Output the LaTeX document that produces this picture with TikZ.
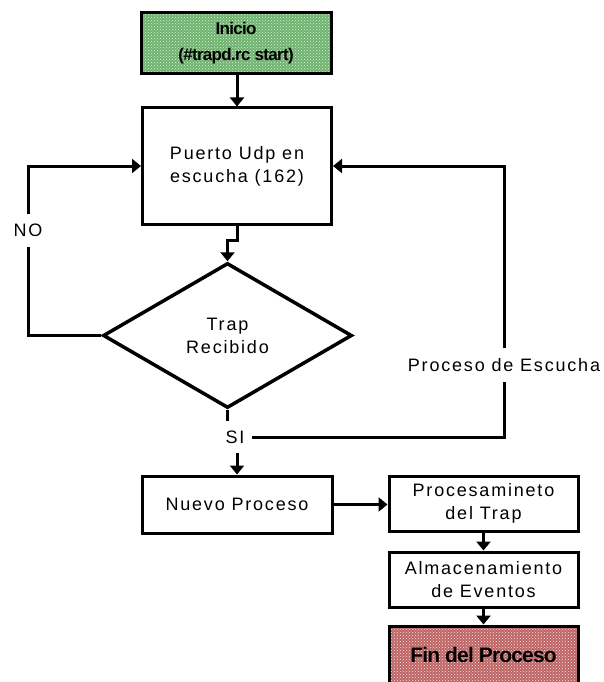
\documentclass[tikz,border=0pt]{standalone}
\usepackage{fontspec}
\setmainfont[LetterSpace=10]{Liberation Sans}
\newfontfamily\boldtight[LetterSpace=-4]{Liberation Sans}
\usetikzlibrary{shapes.geometric,arrows.meta,patterns}
\definecolor{gfill}{RGB}{110,178,110}
\definecolor{gdot}{RGB}{225,245,225}
\definecolor{rfill}{RGB}{190,100,100}
\definecolor{rdot}{RGB}{250,225,225}
\tikzset{
  txt/.style={font=\fontsize{18}{23}\selectfont},
  box/.style={txt, draw, line width=3pt, rectangle, inner sep=0pt, align=center},
  greenbox/.style={box, font=\boldtight\bfseries\fontsize{17}{26}\selectfont,
     preaction={fill=gfill}, preaction={pattern=crosshatch dots, pattern color=gdot}},
  redbox/.style={box, font=\boldtight\bfseries\fontsize{21}{26}\selectfont,
     preaction={fill=rfill}, preaction={pattern=crosshatch dots, pattern color=rdot}},
  dec/.style={txt, draw, diamond, line width=3.5pt, minimum width=249pt, minimum height=145pt,
     inner sep=0pt, align=center},
  lbl/.style={txt, inner sep=0pt},
  conn/.style={line width=3pt},
  arr/.style={conn, -{Triangle[length=9pt,width=14pt]}}
}
\begin{document}
\begin{tikzpicture}[x=1pt,y=-1pt]
\useasboundingbox (0,0) rectangle (603,682);
\fill[white] (0,0) rectangle (603,682);

\node[greenbox, minimum width=190pt, minimum height=61pt] (inicio) at (236,43.5) {Inicio\\(\#trapd.rc start)};
\node[box, minimum width=189pt, minimum height=116pt] (puerto) at (237,166) {Puerto Udp en\\escucha (162)};
\node[dec] (trap) at (227.5,335.5) {Trap\\Recibido};
\node[lbl, minimum height=33pt] (no) at (28,230.5) {NO};
\node[lbl, minimum height=32pt, inner xsep=7pt] (si) at (235,437) {SI};
\node[lbl, minimum height=34pt] (esc) at (504,365) {Proceso de Escucha};
\node[box, minimum width=190pt, minimum height=57pt] (nuevo) at (237,504.5) {Nuevo Proceso};
\node[box, minimum width=189pt, minimum height=55pt] (proc) at (483.5,503.5) {Procesamineto\\del Trap};
\node[box, minimum width=189pt, minimum height=55pt] (alm) at (483.5,579.5) {Almacenamiento\\de Eventos};
\node[redbox, minimum width=189pt, minimum height=58pt] (fin) at (483.5,655) {Fin del Proceso};

\coordinate (j1) at (237,240);
\coordinate (j2) at (227.5,240);

\draw[arr] (inicio.south -| puerto.north) -- (puerto.north);
\draw[arr] (puerto.south) -- (j1) -- (j2) -- (trap.north);
\draw[conn] (trap.west) -| (no.south);
\draw[arr] (no.north) |- (puerto.west);
\draw[conn] (trap.south) -- (trap.south |- si.north);
\draw[conn] (si.east) -| (esc.south);
\draw[arr] (esc.north) |- (puerto.east);
\draw[arr] (nuevo.north |- si.south) -- (nuevo.north);
\draw[arr] (nuevo.east) -- (nuevo.east -| proc.west);
\draw[arr] (proc.south) -- (alm.north);
\draw[arr] (alm.south) -- (fin.north);
\end{tikzpicture}
\end{document}
